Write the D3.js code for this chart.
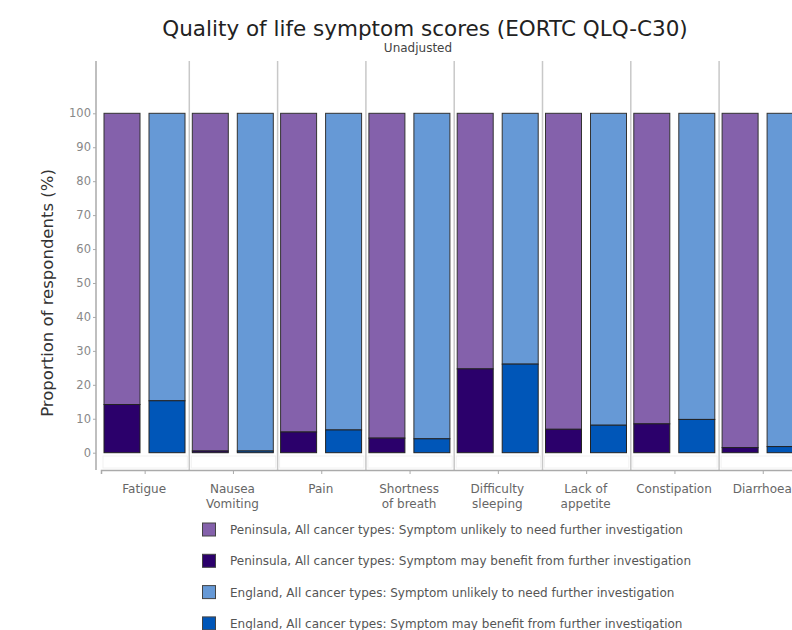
<!DOCTYPE html>
<html><head><meta charset="utf-8">
<script src="https://cdn.jsdelivr.net/npm/d3@7"></script>
<style>body{margin:0;background:#fff}svg{display:block}</style>
</head><body>
<svg id="c" width="792" height="630"></svg>
<script>
const categories = [["Fatigue"],["Nausea","Vomiting"],["Pain"],["Shortness","of breath"],["Difficulty","sleeping"],["Lack of","appetite"],["Constipation"],["Diarrhoea"]];
const catKeys = categories.map(c => c.join(" "));
const peninsulaMayBenefit = [14.2, 0.5, 6.1, 4.3, 24.7, 6.9, 8.5, 1.5];
const englandMayBenefit   = [15.3, 0.5, 6.7, 4.1, 26.1, 8.1, 9.8, 1.8];
const yTicks = [0,10,20,30,40,50,60,70,80,90,100];
const legendLabels = [
  "Peninsula, All cancer types: Symptom unlikely to need further investigation",
  "Peninsula, All cancer types: Symptom may benefit from further investigation",
  "England, All cancer types: Symptom unlikely to need further investigation",
  "England, All cancer types: Symptom may benefit from further investigation"
];
const colors = ["#8461ab", "#2b006b", "#6699d6", "#0056b8"];

const FONT = "DejaVu Sans, Verdana, sans-serif";
const svg = d3.select("#c");
const y = d3.scaleLinear().domain([0,100]).range([452.7, 113.3]);
const step = 88.3;
const x = d3.scaleBand().domain(catKeys).range([101, 101 + step*catKeys.length]).paddingInner(0).paddingOuter(0);
const xs = d3.scaleBand().domain(["P","E"]).range([3, 84]).paddingInner(0.2).paddingOuter(0);

// title
svg.append("text").attr("x", 425).attr("y", 36).attr("text-anchor","middle")
  .attr("font-family",FONT).attr("font-size",21.5).attr("fill","#222")
  .text("Quality of life symptom scores (EORTC QLQ-C30)");
svg.append("text").attr("x", 418).attr("y", 52).attr("text-anchor","middle")
  .attr("font-family",FONT).attr("font-size",12).attr("fill","#444")
  .text("Unadjusted");

// faint panel bottom strips
catKeys.forEach(k => {
  svg.append("rect").attr("x", x(k)+2).attr("y", 456).attr("width", step-4).attr("height", 12)
    .attr("fill","none").attr("stroke","#f2f2f2").attr("stroke-width",1);
});

// separators
catKeys.forEach((k,i) => {
  if (i===0) return;
  svg.append("line").attr("x1", x(k)).attr("x2", x(k)).attr("y1", 61).attr("y2", 470)
    .attr("stroke","#c8c8c8").attr("stroke-width",1.5);
});

// y axis
const yAxis = svg.append("g").attr("transform","translate(96,0)")
  .call(d3.axisLeft(y).tickValues(yTicks).tickSize(3).tickPadding(2));
yAxis.select(".domain").remove();
yAxis.selectAll(".tick line").attr("stroke","#aaa");
yAxis.selectAll(".tick text").attr("font-family",FONT).attr("font-size",11.5).attr("fill","#888");
svg.append("line").attr("x1",96).attr("x2",96).attr("y1",61).attr("y2",470).attr("stroke","#aaa").attr("stroke-width",1.5);

// x axis
const xAxis = svg.append("g").attr("transform","translate(0,470)")
  .call(d3.axisBottom(x).tickSize(4).tickPadding(4).tickFormat(""));
xAxis.select(".domain").attr("stroke","#aaa").attr("stroke-width",1.5);
xAxis.selectAll(".tick line").attr("stroke","#aaa");
categories.forEach((lines,i) => {
  const cx = x(catKeys[i]) + step/2 - 1;
  const t = svg.append("text").attr("x", cx).attr("y", 493)
    .attr("text-anchor","middle").attr("font-family",FONT)
    .attr("font-size",12).attr("fill","#666");
  lines.forEach((l,j) => t.append("tspan").attr("x", cx).attr("dy", j===0?0:15).text(l));
});

// y axis title
svg.append("text").attr("transform","translate(53,293) rotate(-90)").attr("text-anchor","middle")
  .attr("font-family",FONT).attr("font-size",16.5).attr("fill","#333")
  .text("Proportion of respondents (%)");

// bars
const series = [
  {key:"P", may: peninsulaMayBenefit, cUnl: colors[0], cMay: colors[1]},
  {key:"E", may: englandMayBenefit, cUnl: colors[2], cMay: colors[3]}
];
series.forEach(s => {
  const g = svg.append("g");
  catKeys.forEach((k,i) => {
    const x0 = x(k) + xs(s.key);
    const v = s.may[i];
    g.append("rect").attr("x", x0).attr("y", y(100)).attr("width", xs.bandwidth()).attr("height", y(v) - y(100))
      .attr("fill", s.cUnl).attr("stroke","#333").attr("stroke-width",1);
    g.append("rect").attr("x", x0).attr("y", y(v)).attr("width", xs.bandwidth()).attr("height", y(0) - y(v))
      .attr("fill", s.cMay).attr("stroke","#222").attr("stroke-width",1);
  });
});

// legend
legendLabels.forEach((l,i) => {
  const yy = 530 + i*31.3;
  svg.append("rect").attr("x", 202.5).attr("y", yy-7).attr("width", 13).attr("height", 13)
    .attr("fill", colors[i]).attr("stroke","#444").attr("stroke-width",1);
  svg.append("text").attr("x", 230).attr("y", yy+4).attr("font-family",FONT)
    .attr("font-size",12).attr("fill","#555").text(l);
});
</script>
</body></html>
